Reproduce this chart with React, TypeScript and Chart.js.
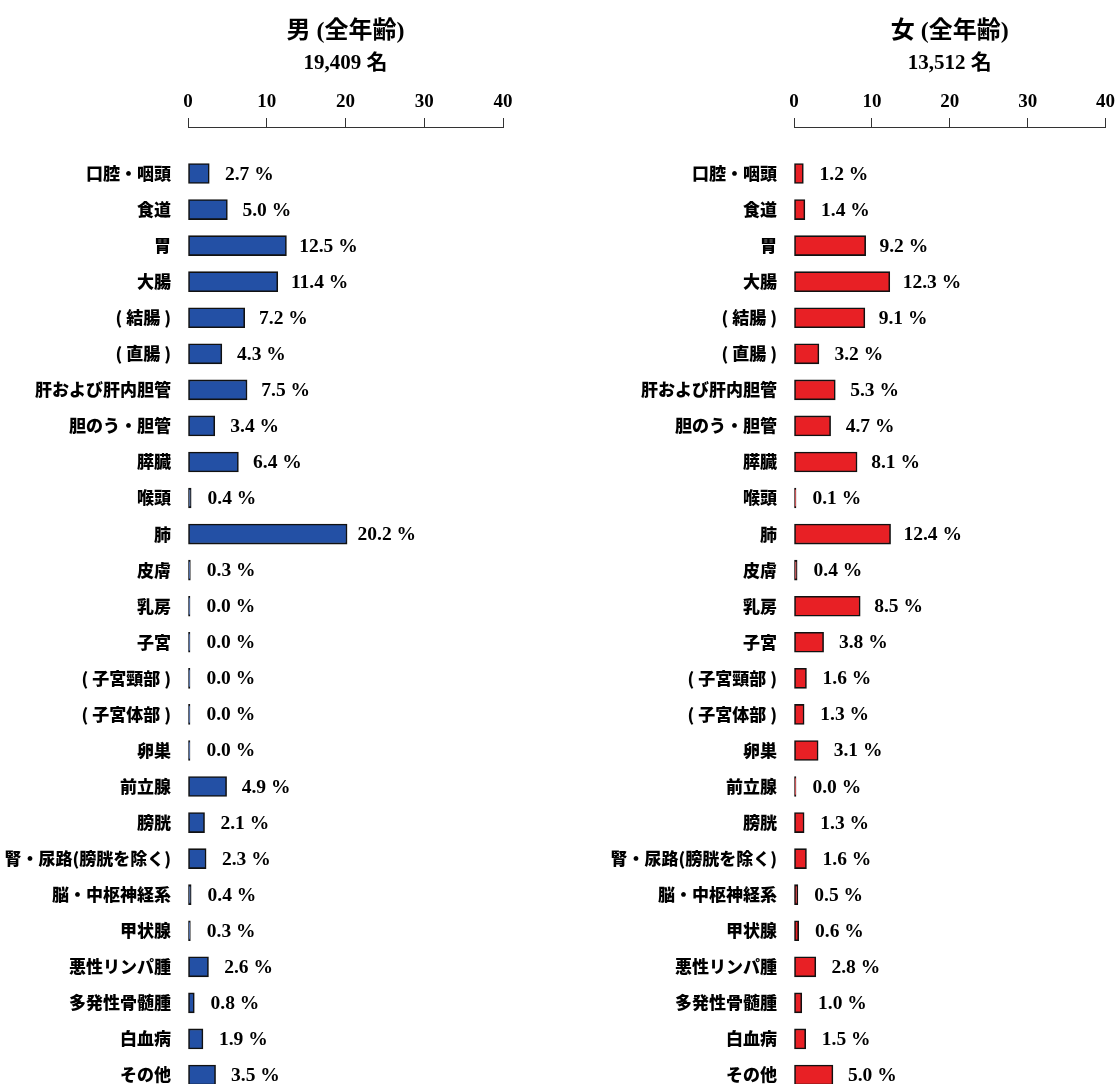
import React, { useEffect, useRef } from "react";
import { Chart, registerables } from "chart.js";

Chart.register(...registerables);

const categories = [
  "口腔・咽頭", "食道", "胃", "大腸", "( 結腸 )", "( 直腸 )", "肝および肝内胆管",
  "胆のう・胆管", "膵臓", "喉頭", "肺", "皮膚", "乳房", "子宮", "( 子宮頸部 )",
  "( 子宮体部 )", "卵巣", "前立腺", "膀胱", "腎・尿路(膀胱を除く)", "脳・中枢神経系",
  "甲状腺", "悪性リンパ腫", "多発性骨髄腫", "白血病", "その他",
];

const maleValues = [
  2.7, 5.0, 12.5, 11.4, 7.2, 4.3, 7.5, 3.4, 6.4, 0.4, 20.2, 0.3, 0.0, 0.0, 0.0,
  0.0, 0.0, 4.9, 2.1, 2.3, 0.4, 0.3, 2.6, 0.8, 1.9, 3.5,
];

const femaleValues = [
  1.2, 1.4, 9.2, 12.3, 9.1, 3.2, 5.3, 4.7, 8.1, 0.1, 12.4, 0.4, 8.5, 3.8, 1.6,
  1.3, 3.1, 0.0, 1.3, 1.6, 0.5, 0.6, 2.8, 1.0, 1.5, 5.0,
];

const maleTitle = "男 (全年齢)";
const maleCount = "19,409 名";
const femaleTitle = "女 (全年齢)";
const femaleCount = "13,512 名";

const xTickValues = [0, 10, 20, 30, 40];

const SERIF_CJK = "'Liberation Serif', 'Times New Roman', 'Noto Sans CJK JP', serif";
const CJK = "'Noto Sans CJK JP', 'Noto Sans CJK SC', sans-serif";

const FIRST_CENTER = 173.5;
const ROW_SPACING = 36.06;

const rowPlugin = {
  id: "rowPlacement",
  afterLayout(chart: any) {
    const s = chart.scales.y;
    s._startValue = -(FIRST_CENTER - s.top) / ROW_SPACING;
    s._valueRange = (s.bottom - s.top) / ROW_SPACING;
  },
};

const valueLabelPlugin = {
  id: "valueLabels",
  afterDatasetsDraw(chart: any) {
    const ctx = chart.ctx;
    const meta = chart.getDatasetMeta(0);
    const data = chart.data.datasets[0].data as number[];
    ctx.save();
    ctx.font = `bold 19.5px ${SERIF_CJK}`;
    ctx.fillStyle = "#000";
    ctx.textAlign = "left";
    ctx.textBaseline = "middle";
    meta.data.forEach((el: any, i: number) => {
      const x = el.base + 16.5 + (el.x - el.base) * 0.962;
      ctx.fillText(`${data[i].toFixed(1)} %`, x, el.y + 1);
    });
    ctx.restore();
  },
};

function BarPanel(props: {
  values: number[];
  color: string;
  title: string;
  subtitle: string;
  axisLeft: number;
  padRight: number;
  left: number;
}) {
  const ref = useRef<HTMLCanvasElement | null>(null);
  useEffect(() => {
    if (!ref.current) return;
    const chart = new Chart(ref.current, {
      type: "bar",
      data: {
        labels: categories,
        datasets: [
          {
            data: props.values,
            backgroundColor: props.color,
            borderColor: "#111111",
            borderWidth: 1.6,
            borderSkipped: false,
            barThickness: 20,
            minBarLength: 2,
            clip: false,
          },
        ],
      },
      options: {
        indexAxis: "y",
        animation: false,
        responsive: false,
        maintainAspectRatio: false,
        layout: { autoPadding: false, padding: { left: 0, right: props.padRight, top: 0, bottom: 0 } },
        plugins: {
          legend: { display: false },
          tooltip: { enabled: false },
          title: {
            display: true,
            text: props.title,
            fullSize: false,
            color: "#000",
            font: { family: SERIF_CJK, size: 24, weight: "bold" },
            padding: { top: 17, bottom: 1 },
          },
          subtitle: {
            display: true,
            text: props.subtitle,
            fullSize: false,
            color: "#000",
            font: { family: SERIF_CJK, size: 21, weight: "bold" },
            padding: { top: 4, bottom: 0 },
          },
        },
        scales: {
          x: {
            position: "top",
            min: 0,
            max: 40,
            afterBuildTicks: (s: any) => {
              s.ticks = xTickValues.map((v) => ({ value: v }));
            },
            afterFit: (s: any) => {
              s.height = 127 - (17 + 28.8 + 1 + 4 + 25.2);
            },
            grid: {
              display: true,
              drawOnChartArea: false,
              drawTicks: true,
              tickLength: 9,
              color: "#333",
              lineWidth: 1,
            },
            border: { display: true, color: "#333", width: 1 },
            ticks: {
              color: "#000",
              padding: 5,
              maxRotation: 0,
              font: { family: SERIF_CJK, size: 19, weight: "bold" },
            },
          },
          y: {
            type: "category",
            offset: true,
            afterFit: (s: any) => {
              s.width = props.axisLeft;
            },
            grid: { display: false, drawTicks: false },
            border: { display: false },
            ticks: {
              color: "#000",
              padding: 17,
              autoSkip: false,
              font: { family: CJK, size: 17, weight: "900" },
            },
          },
        },
      },
      plugins: [rowPlugin, valueLabelPlugin],
    } as any);
    return () => chart.destroy();
  }, []);
  return (
    <canvas
      ref={ref}
      width={560}
      height={1084}
      style={{ position: "absolute", top: 0, left: props.left, width: 560, height: 1084 }}
    />
  );
}

export default function App() {
  return (
    <div style={{ position: "absolute", top: 0, left: 0, width: 1120, height: 1084, background: "#fff", overflow: "hidden" }}>
      <BarPanel values={maleValues} color="#2350a5" title={maleTitle} subtitle={maleCount} axisLeft={188} padRight={57} left={0} />
      <BarPanel values={femaleValues} color="#e82025" title={femaleTitle} subtitle={femaleCount} axisLeft={234} padRight={10} left={560} />
    </div>
  );
}
